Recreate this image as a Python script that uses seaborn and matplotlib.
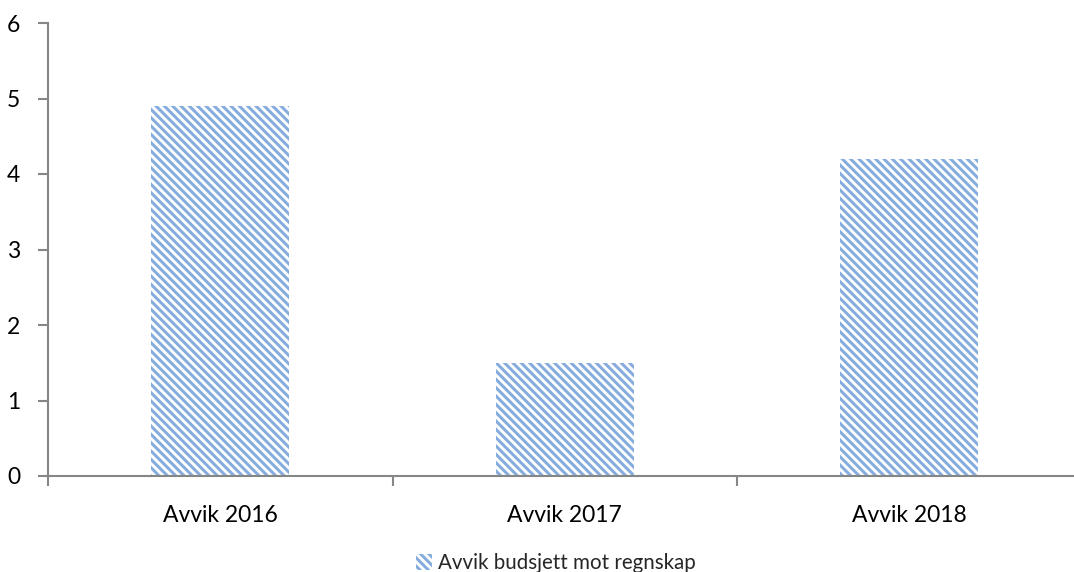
import matplotlib
matplotlib.use("Agg")
import matplotlib.pyplot as plt
import seaborn as sns

categories = ["Avvik 2016", "Avvik 2017", "Avvik 2018"]
values = [4.9, 1.5, 4.2]
series_name = "Avvik budsjett mot regnskap"
y_ticks = [0, 1, 2, 3, 4, 5, 6]

sns.set_theme(style="white")
plt.rcParams["font.family"] = ["Lato", "DejaVu Sans"]
plt.rcParams["hatch.linewidth"] = 2.2

W, H = 1074, 572
fig = plt.figure(figsize=(W / 100, H / 100), dpi=100)
ax = fig.add_axes([48 / W, (H - 476) / H, 1033.5 / W, 453 / H])

hatch_color = "#86ADDE"
sns.barplot(x=categories, y=values, ax=ax, width=0.4, color="white",
            label=series_name, linewidth=0)
for p in ax.patches:
    p.set_hatch("\\\\\\\\")
    p.set_edgecolor(hatch_color)
    p.set_facecolor("white")
    p.set_linewidth(0)

ax.set_xlim(-0.5, 2.5)
ax.set_ylim(0, 6)
ax.set_yticks(y_ticks)
ax.set_xticks([-0.5, 0.5, 1.5, 2.5], minor=True)
ax.set_xticks(range(len(categories)))
ax.set_xticklabels(categories)

spine_color = "#868686"
for s in ["top", "right"]:
    ax.spines[s].set_visible(False)
for s in ["left", "bottom"]:
    ax.spines[s].set_color(spine_color)
    ax.spines[s].set_linewidth(1.5)

ax.tick_params(axis="y", which="major", direction="out", length=7, width=1.5,
               color=spine_color, labelsize=16.5, pad=13, left=True,
               labelcolor="black")
ax.tick_params(axis="x", which="major", length=0, labelsize=16.5, pad=21,
               labelcolor="black")
ax.tick_params(axis="x", which="minor", direction="out", length=7, width=1.5,
               color=spine_color, bottom=True)
ax.set_xlabel("")
ax.set_ylabel("")

leg = ax.legend(loc="center", bbox_to_anchor=(556 / W, (H - 563) / H),
                bbox_transform=fig.transFigure, frameon=False, fontsize=14.8,
                handlelength=0.8, handleheight=0.8, handletextpad=0.3)

fig.savefig("out.png", dpi=100)
